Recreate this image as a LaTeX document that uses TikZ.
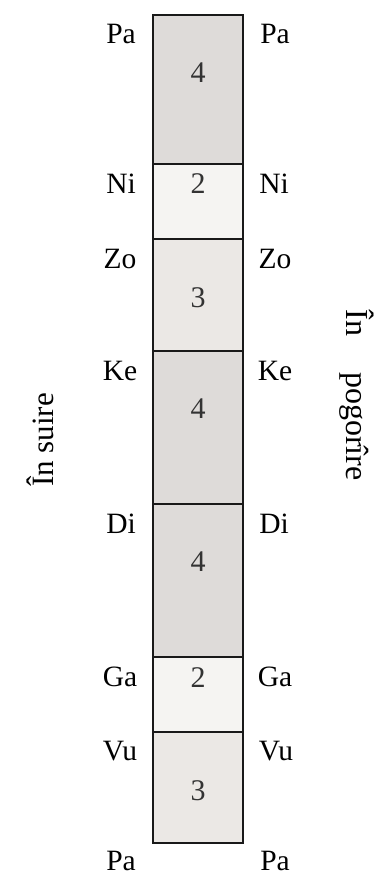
\documentclass[tikz,border=0pt]{standalone}
\usepackage{fontspec}
\setmainfont{Liberation Serif}
\definecolor{cfour}{RGB}{222,219,217}
\definecolor{cthree}{RGB}{235,232,229}
\definecolor{ctwo}{RGB}{245,244,242}
\tikzset{
  seg/.style={draw=black!90, line width=1.1pt, minimum width=90pt, inner sep=0pt, outer sep=0pt, anchor=north},
  lab/.style={font=\fontsize{29.5}{31}\selectfont, inner sep=0pt, anchor=base},
  num/.style={font=\fontsize{30}{32}\selectfont, inner sep=0pt, anchor=base, text=black!80},
  side/.style={font=\fontsize{31}{33}\selectfont, inner sep=0pt}
}
\begin{document}
\begin{tikzpicture}[x=1pt,y=1pt]
\useasboundingbox (0,0) rectangle (386,-875);
% segments
\node[seg, fill=cfour,  minimum height=149pt] (s1) at (198,-15) {};
\node[seg, fill=ctwo,   minimum height=75pt]  (s2) at (198,-164) {};
\node[seg, fill=cthree, minimum height=112pt] (s3) at (198,-239) {};
\node[seg, fill=cfour,  minimum height=153pt] (s4) at (198,-351) {};
\node[seg, fill=cfour,  minimum height=153pt] (s5) at (198,-504) {};
\node[seg, fill=ctwo,   minimum height=75pt]  (s6) at (198,-657) {};
\node[seg, fill=cthree, minimum height=111pt] (s7) at (198,-732) {};
% numbers
\node[num] (n1) at (198,-82) {4};
\node[num] (n2) at (198,-193) {2};
\node[num] (n3) at (198,-307) {3};
\node[num] (n4) at (198,-418) {4};
\node[num] (n5) at (198,-571) {4};
\node[num] (n6) at (198,-687) {2};
\node[num] (n7) at (198,-800) {3};
% left labels
\node[lab] (l1) at (121,-44) {Pa};
\node[lab] (l2) at (121,-193) {Ni};
\node[lab] (l3) at (120,-268) {Zo};
\node[lab] (l4) at (120,-380) {Ke};
\node[lab] (l5) at (121,-533) {Di};
\node[lab] (l6) at (120,-686) {Ga};
\node[lab] (l7) at (120,-760) {Vu};
\node[lab] (l8) at (121,-870) {Pa};
% right labels
\node[lab] (r1) at (275,-44) {Pa};
\node[lab] (r2) at (274,-193) {Ni};
\node[lab] (r3) at (275,-268) {Zo};
\node[lab] (r4) at (275,-380) {Ke};
\node[lab] (r5) at (274,-533) {Di};
\node[lab] (r6) at (275,-686) {Ga};
\node[lab] (r7) at (276,-760) {Vu};
\node[lab] (r8) at (275,-870) {Pa};
% side texts
\node[side, rotate=90] (up) at (40,-440) {În suire};
\node[side, rotate=-90, font=\fontsize{32}{34}\selectfont] (down) at (357,-395) {În\hspace*{36pt}pogorîre};
\end{tikzpicture}
\end{document}
